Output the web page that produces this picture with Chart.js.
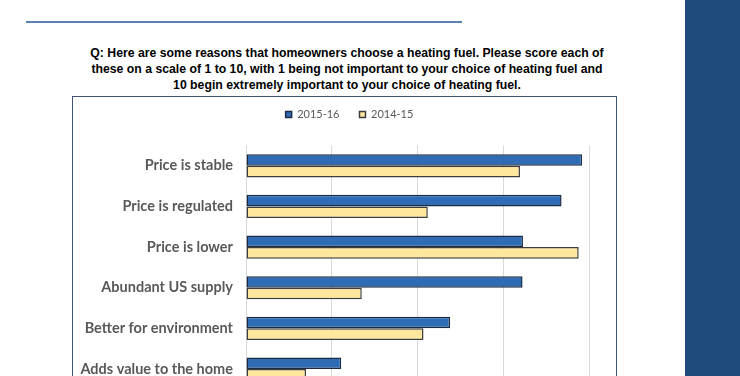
<!DOCTYPE html>
<html>
<head>
<meta charset="utf-8">
<script src="https://cdn.jsdelivr.net/npm/chart.js@4"></script>
<style>
    body { margin: 0; width: 740px; height: 376px; overflow: hidden; background: #fff; position: relative; }
    .rule { position: absolute; left: 26px; top: 21px; width: 436px; height: 2px; background: #5b80b1; }
    .side { position: absolute; left: 685px; top: 0; width: 55px; height: 376px; background: #1f4a7c; }
    .question {
        position: absolute; left: 30px; top: 45px; width: 634px;
        font: bold 12.25px "Liberation Sans", Arial, sans-serif; line-height: 16px;
        text-align: center; color: #000;
    }
    .box { position: absolute; left: 72px; top: 96px; width: 543px; height: 330px; border: 1.5px solid #3f5673; border-bottom: none; }
    #chartWrap { position: absolute; left: 74px; top: 89px; width: 541px; height: 322px; }
</style>
</head>
<body>
<div class="rule"></div>
<div class="side"></div>
<div class="question">Q: Here are some reasons that homeowners choose a heating fuel. Please score each of<br>these on a scale of 1 to 10, with 1 being not important to your choice of heating fuel and<br>10 begin extremely important to your choice of heating fuel.</div>
<div class="box"></div>
<div id="chartWrap"><canvas id="reasonsChart"></canvas></div>

<script>
const categories = ["Price is stable", "Price is regulated", "Price is lower", "Abundant US supply", "Better for environment", "Adds value to the home"];
const values2015 = [7.84, 7.36, 6.46, 6.45, 4.76, 2.22];
const values2014 = [6.39, 4.24, 7.76, 2.70, 4.14, 1.40];
const tickValues = [0, 2, 4, 6, 8];

document.addEventListener("DOMContentLoaded", () => {
    showBarChart();
});

// extra room under the legend, and nudge it right like the original
const legendSpacer = {
    id: "legendSpacer",
    beforeInit(chart) {
        const origFit = chart.legend.fit;
        chart.legend.fit = function () {
            origFit.bind(chart.legend)();
            this.height += 15.5;
        };
    },
    afterLayout(chart) {
        chart.legend.left += 18;
        chart.legend.right += 18;
    },
};

function showBarChart() {
    const ctx = document.getElementById("reasonsChart").getContext("2d");
    new Chart(ctx, {
        type: "bar",
        data: {
            labels: categories,
            datasets: [
                {
                    label: "2015-16",
                    data: values2015,
                    backgroundColor: "#2e6db6",
                    borderColor: "#1b2b44",
                    borderWidth: 1.5,
                    borderSkipped: false,
                },
                {
                    label: "2014-15",
                    data: values2014,
                    backgroundColor: "#ffe79d",
                    borderColor: "#3d3d3d",
                    borderWidth: 1.5,
                    borderSkipped: false,
                },
            ],
        },
        plugins: [legendSpacer],
        options: {
            indexAxis: "y",
            responsive: true,
            maintainAspectRatio: false,
            animation: false,
            categoryPercentage: 0.57,
            barPercentage: 1.0,
            layout: {
                padding: { top: 0, right: 26, left: 0, bottom: 0 },
            },
            plugins: {
                legend: {
                    position: "top",
                    labels: {
                        boxWidth: 6,
                        boxHeight: 6,
                        padding: 20,
                        color: "#595959",
                        font: { family: "Lato", size: 11 },
                    },
                },
                tooltip: { enabled: false },
            },
            scales: {
                x: {
                    min: tickValues[0],
                    max: tickValues[tickValues.length - 1],
                    afterBuildTicks: (scale) => {
                        scale.ticks = tickValues.map((v) => ({ value: v }));
                    },
                    grid: { color: "#d9d9d9", drawTicks: false },
                    border: { display: false },
                    ticks: { color: "#595959", font: { family: "Lato", size: 12 } },
                },
                y: {
                    grid: { display: false, drawTicks: false },
                    border: { display: false },
                    afterFit: (scale) => {
                        scale.width = 172; // bars start at the 246px mark
                    },
                    ticks: {
                        color: "#595959",
                        padding: 13,
                        font: { family: "Lato", size: 14.5, weight: "bold" },
                    },
                },
            },
        },
    });
}
</script>
</body>
</html>
